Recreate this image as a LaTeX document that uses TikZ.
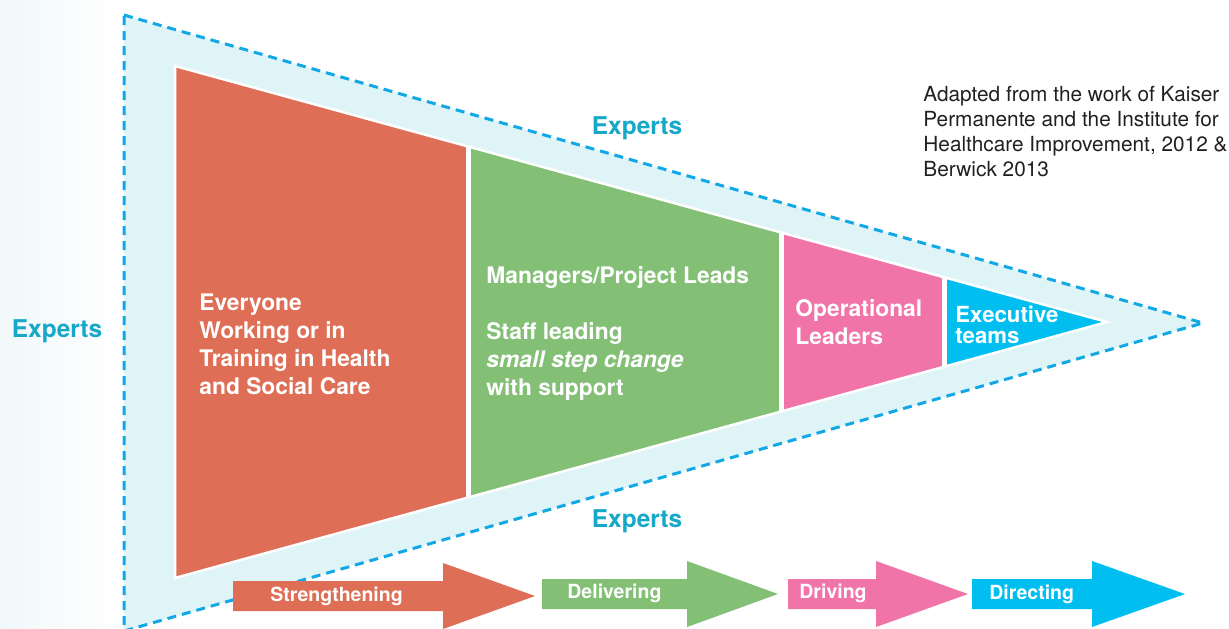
\documentclass[tikz,border=0pt]{standalone}
\usepackage{fontspec}
\setmainfont{TeX Gyre Heros}
\usepackage{tikz}
\usetikzlibrary{calc,positioning}

\definecolor{seg1}{HTML}{DE6E55}
\definecolor{seg2}{HTML}{83C076}
\definecolor{seg3}{HTML}{F074A8}
\definecolor{seg4}{HTML}{00BFF0}
\definecolor{paleblue}{HTML}{DFF4F7}
\definecolor{dashblue}{HTML}{12A8E6}
\definecolor{expertblue}{HTML}{17A8C9}
\definecolor{leftwash}{HTML}{F1F8FA}
\definecolor{sourcegray}{HTML}{231F20}

\begin{document}
\begin{tikzpicture}[x=0.5pt,y=-0.5pt]

   \tikzstyle{expert}=[text=expertblue,inner sep=0pt,font=\fontsize{12.25}{14}\selectfont\bfseries]
   \tikzstyle{stage}=[text=white,align=left,anchor=north west,inner sep=0pt,font=\fontsize{11.4}{14}\selectfont\bfseries]
   \tikzstyle{steplabel}=[text=white,anchor=base west,inner sep=0pt,font=\fontsize{9.75}{12}\selectfont\bfseries]

   \useasboundingbox (0,0) rectangle (1229,628);

   % faint wash on the left edge
   \shade[left color=leftwash,right color=white] (0,0) rectangle (118,628);

   % outer (dashed) triangle
   \coordinate (outer_top) at (124,15);
   \coordinate (outer_bottom) at (124,631);
   \coordinate (outer_tip) at (1203,323);
   \filldraw[fill=paleblue,draw=dashblue,line width=1.5pt,dash pattern=on 4.5pt off 3pt]
      (outer_top) -- (outer_tip) -- (outer_bottom) -- cycle;

   % inner triangle cut into four bands
   \coordinate (inner_top) at (175,66);
   \coordinate (inner_bottom) at (175,578);
   \coordinate (inner_tip) at (1107,322);
   \begin{scope}
      \clip (inner_top) -- (inner_tip) -- (inner_bottom) -- cycle;
      \fill[seg1] (160,0) rectangle (468,628);
      \fill[seg2] (468,0) rectangle (781,628);
      \fill[seg3] (781,0) rectangle (944,628);
      \fill[seg4] (944,0) rectangle (1115,628);
      \foreach \x in {468,781,944}
         \draw[white,line width=2.5pt] (\x,40) -- (\x,600);
   \end{scope}
   \draw[white,line width=1.25pt,line join=miter] (inner_top) -- (inner_tip) -- (inner_bottom) -- cycle;

   \node[expert] (experts_top) at (637,128) {Experts};
   \node[expert] (experts_bottom) at (637,521) {Experts};
   \node[expert] (experts_left) at (57,331) {Experts};

   \node[stage] (everyone) at (199,293) {Everyone\\Working or in\\Training in Health\\and Social Care};
   \node[stage] (managers) at (486,266) {Managers/Project Leads};
   \node[stage] (staff) at (486,322) {Staff leading\\\textit{small step change}\\with support};
   \node[stage] (operational) at (795,299) {Operational\\Leaders};
   \node[stage,font=\fontsize{11.1}{10.3}\selectfont\bfseries] (executive) at (955,306) {Executive\\teams};

   \node[anchor=north west,align=left,inner sep=0pt,text=sourcegray,font=\fontsize{10.4}{12.5}\selectfont]
      (source) at (923,86) {Adapted from the work of Kaiser\\Permanente and the Institute for\\Healthcare Improvement, 2012 \&\\Berwick 2013};

   % the four stage arrows
   \foreach \col/\xa/\xb/\xc/\yc in {seg1/233/443/535/596,seg2/542/687/778/594,
                                     seg3/788/876/968/594,seg4/972/1092/1185/594}
      \fill[\col] (\xa,\yc-15) -- (\xb,\yc-15) -- (\xb,\yc-33) -- (\xc,\yc)
                  -- (\xb,\yc+33) -- (\xb,\yc+15) -- (\xa,\yc+15) -- cycle;

   \node[steplabel] (strengthening) at (270,601) {Strengthening};
   \node[steplabel] (delivering) at (567,598) {Delivering};
   \node[steplabel] (driving) at (799,598) {Driving};
   \node[steplabel] (directing) at (989,599) {Directing};

\end{tikzpicture}
\end{document}
